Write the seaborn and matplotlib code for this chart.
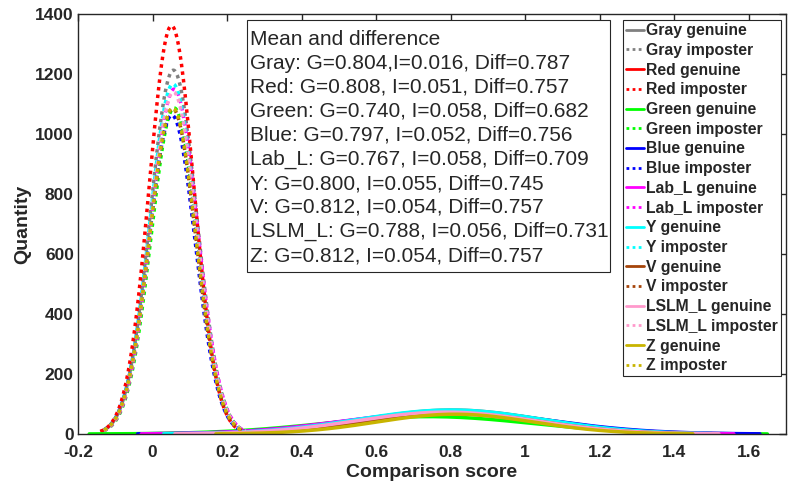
import numpy as np
import pandas as pd
import seaborn as sns
import matplotlib.pyplot as plt
from matplotlib.patches import Rectangle

sns.set_style('white')
plt.rcParams['font.family'] = ['Liberation Sans', 'DejaVu Sans']

# fitted normal curves per colour space
names = ['Gray', 'Red', 'Green', 'Blue', 'Lab_L', 'Y', 'V', 'LSLM_L', 'Z']

gen_mean = [0.804, 0.808, 0.740, 0.797, 0.767, 0.800, 0.812, 0.788, 0.812]
gen_sd = [0.24, 0.25, 0.28, 0.27, 0.26, 0.25, 0.23, 0.24, 0.21]
gen_peak = [80, 77, 58, 74, 70, 80, 68, 73, 66]
gen_lo = [0.00, 0.02, -0.17, -0.04, -0.03, 0.03, 0.10, 0.06, 0.17]
gen_hi = [1.48, 1.50, 1.65, 1.63, 1.56, 1.50, 1.46, 1.52, 1.45]

imp_mean = [0.056, 0.051, 0.058, 0.052, 0.058, 0.055, 0.054, 0.056, 0.054]
imp_sd = [0.062, 0.060, 0.062, 0.062, 0.062, 0.062, 0.062, 0.062, 0.062]
imp_peak = [1213, 1361, 1087, 1063, 1150, 1167, 1085, 1140, 1087]
imp_lo = [-0.14, -0.14, -0.13, -0.13, -0.13, -0.13, -0.13, -0.13, -0.13]
imp_hi = [0.24, 0.24, 0.24, 0.23, 0.25, 0.25, 0.245, 0.25, 0.245]

info_lines = ['Mean and difference',
              'Gray: G=0.804,I=0.016, Diff=0.787',
              'Red: G=0.808, I=0.051, Diff=0.757',
              'Green: G=0.740, I=0.058, Diff=0.682',
              'Blue: G=0.797, I=0.052, Diff=0.756',
              'Lab_L: G=0.767, I=0.058, Diff=0.709',
              'Y: G=0.800, I=0.055, Diff=0.745',
              'V: G=0.812, I=0.054, Diff=0.757',
              'LSLM_L: G=0.788, I=0.056, Diff=0.731',
              'Z: G=0.812, I=0.054, Diff=0.757']

colors = ['#808080', '#ff0000', '#00ff00', '#0000ff', '#ff00ff',
          '#00ffff', '#a5440a', '#ff99cc', '#c8b400']


def curve(m, s, peak, lo, hi):
    xs = np.linspace(lo, hi, 200)
    return xs, peak * np.exp(-0.5 * ((xs - m) / s) ** 2)


fig = plt.figure(figsize=(7.91, 4.86), dpi=100)
ax = fig.add_axes([0.0986, 0.107, 0.8951, 0.864])

for i, n in enumerate(names):
    gx, gy = curve(gen_mean[i], gen_sd[i], gen_peak[i], gen_lo[i], gen_hi[i])
    sns.lineplot(x=gx, y=gy, ax=ax, color=colors[i], lw=2.5,
                 label=n + ' genuine', sort=False)
    ix, iy = curve(imp_mean[i], imp_sd[i], imp_peak[i], imp_lo[i], imp_hi[i])
    sns.lineplot(x=ix, y=iy, ax=ax, color=colors[i], lw=2.5,
                 linestyle=(0, (1, 1.2)), label=n + ' imposter', sort=False)

ax.set_xlim(-0.2, 1.7)
ax.set_ylim(0, 1400)
ax.set_xticks(np.arange(-0.2, 1.61, 0.2))
ax.set_xticklabels(['-0.2', '0', '0.2', '0.4', '0.6', '0.8', '1', '1.2', '1.4', '1.6'])
ax.set_yticks(np.arange(0, 1401, 200))
ax.tick_params(direction='in', top=True, right=True, length=5, width=1,
               color='#262626', labelsize=12.5)
ax.tick_params(axis='x', pad=8)
ax.tick_params(axis='y', pad=3)
for lab in ax.get_xticklabels() + ax.get_yticklabels():
    lab.set_fontweight('bold')
    lab.set_color('#262626')
for sp in ax.spines.values():
    sp.set_color('#262626')
    sp.set_linewidth(1)

ax.set_xlabel('Comparison score', fontsize=14, fontweight='bold', color='#262626', labelpad=3)
ax.set_ylabel('Quantity', fontsize=14, fontweight='bold', color='#262626', labelpad=3)

# text box with the means
ax.add_patch(Rectangle((0.2387, 0.3857), 0.5127, 0.6, transform=ax.transAxes,
                       fc='white', ec='#262626', lw=0.8, zorder=5))
ax.text(0.2429, 0.962, '\n'.join(info_lines), transform=ax.transAxes,
        fontsize=15, va='top', ha='left', linespacing=1.33, zorder=6)

leg = ax.legend(loc='upper right', bbox_to_anchor=(0.993, 0.9857),
                prop={'weight': 'bold', 'size': 11.3}, handlelength=1.15,
                handletextpad=0.15, labelspacing=0.3, borderpad=0.2,
                borderaxespad=0, fancybox=False, framealpha=1)
leg.get_frame().set_edgecolor('#262626')
leg.get_frame().set_linewidth(0.8)
for h in leg.get_lines():
    h.set_linewidth(2)

fig.savefig('out.png', dpi=100)
